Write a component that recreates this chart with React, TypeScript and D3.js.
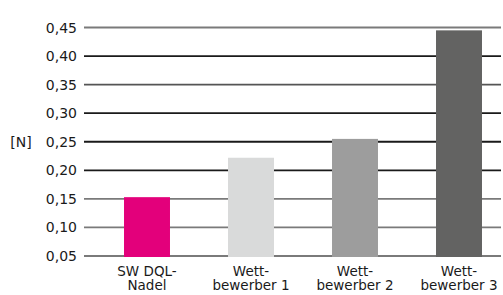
import React from "react";
import * as d3 from "d3";

const categories = [["SW DQL-", "Nadel"], ["Wett-", "bewerber 1"], ["Wett-", "bewerber 2"], ["Wett-", "bewerber 3"]];
const values = [0.153, 0.222, 0.255, 0.445];
const barColors = ["#E3007B", "#D9DADA", "#9D9D9D", "#636362"];
const ticks = [0.05, 0.1, 0.15, 0.2, 0.25, 0.3, 0.35, 0.4, 0.45];
const gridColors = ["#7a7a7a", "#7a7a7a", "#7a7a7a", "#1a1a1a", "#1a1a1a", "#1a1a1a", "#555555", "#1a1a1a", "#7a7a7a"];
const unitLabel = "[N]";

export default function App() {
  const W = 503, H = 295;
  const y = d3.scaleLinear().domain([0.05, 0.45]).range([256, 27.5]);
  const x = d3.scaleBand<number>().domain(d3.range(categories.length)).range([95, 511]).paddingInner(0.558).paddingOuter(0.279);
  const font = "DejaVu Sans, sans-serif";
  return (
    <svg width={W} height={H} style={{ position: "absolute", left: 0, top: 0 }}>
      <rect width={W} height={H} fill="#fff" />
      {ticks.map((t, i) => (
        <g key={t}>
          <line x1={84} x2={501} y1={y(t)} y2={y(t)} stroke={gridColors[i]} strokeWidth={1.8} />
          <text x={77} y={y(t)} dy="0.36em" textAnchor="end" fontFamily={font} fontSize={14} fill="#1a1a1a">
            {t.toFixed(2).replace(".", ",")}
          </text>
        </g>
      ))}
      <text x={21} y={(y(0.05) + y(0.45)) / 2} dy="0.36em" textAnchor="middle" fontFamily={font} fontSize={14} fill="#1a1a1a">{unitLabel}</text>
      {values.map((v, i) => (
        <rect key={i} x={x(i)} width={x.bandwidth()} y={y(v)} height={y(0.05) - y(v) + 1} fill={barColors[i]} />
      ))}
      {categories.map((c, i) =>
        c.map((l, j) => (
          <text key={i + "-" + j} x={(x(i) as number) + x.bandwidth() / 2} y={275.5 + j * 14.5} textAnchor="middle" fontFamily={font} fontSize={13.5} fill="#1a1a1a">{l}</text>
        ))
      )}
    </svg>
  );
}
